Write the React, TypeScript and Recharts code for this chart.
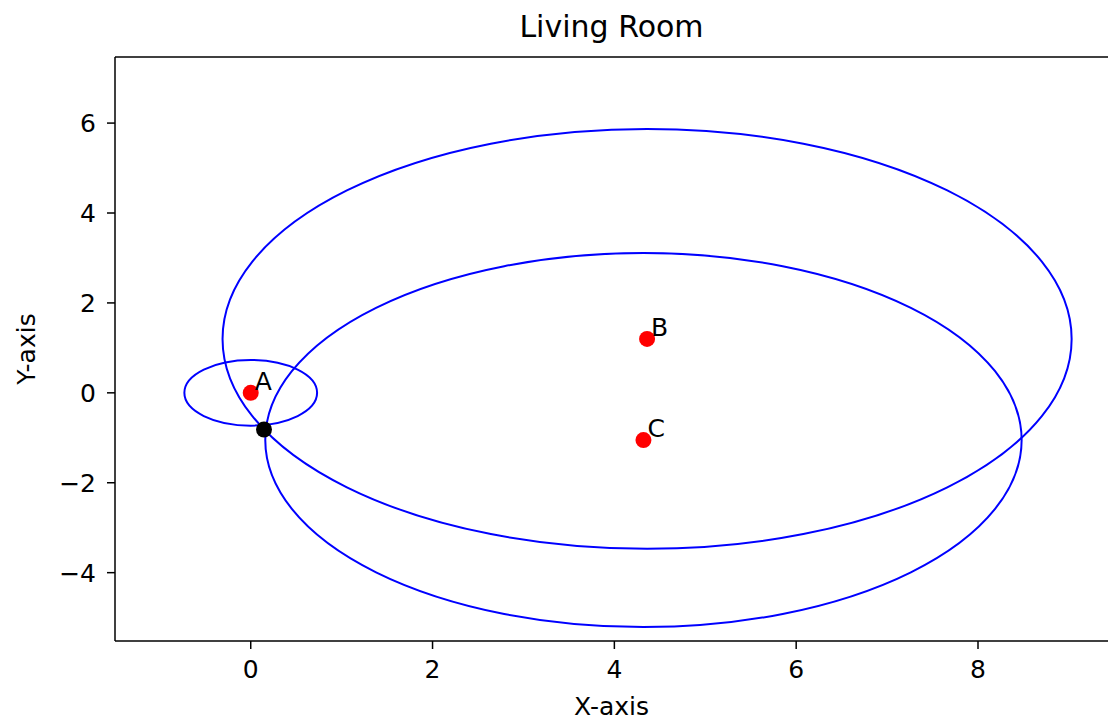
import React from 'react';
import { ScatterChart, Scatter, XAxis, YAxis, ReferenceArea, ReferenceLine } from 'recharts';

// anchor points
const pointNames = ['A', 'B', 'C'];
const pointX = [0, 4.36, 4.32];
const pointY = [0, 1.2, -1.05];
// radius of the circle drawn around each anchor
const circleRadii = [0.73, 4.67, 4.16];
// estimated position (black dot)
const estimateX = [0.146];
const estimateY = [-0.815];

const xTicks = [0, 2, 4, 6, 8];
const yTicks = [-4, -2, 0, 2, 4, 6];
const xDomain = [-1.493, 9.43];
const yDomain = [-5.52, 7.47];

const FONT = 'DejaVu Sans, sans-serif';
const INK = '#000';

const anchors = pointNames.map((name, i) => ({ name, x: pointX[i], y: pointY[i], r: circleRadii[i] }));
const estimate = estimateX.map((x, i) => ({ x, y: estimateY[i] }));

const fmt = (v: number) => (v < 0 ? `\u2212${Math.abs(v)}` : `${v}`);

const RedDot = (p: any) => (
  <g>
    <circle cx={p.cx} cy={p.cy} r={8} fill="#ff0000" />
    <text x={p.cx + 4} y={p.cy - 3} fontSize={25} fontFamily={FONT} fill={INK}>
      {p.payload.name}
    </text>
  </g>
);

const BlackDot = (p: any) => <circle cx={p.cx} cy={p.cy} r={8} fill="#000" />;

// ellipse inscribed in the reference area box
const Ring = (p: any) => (
  <ellipse
    cx={p.x + p.width / 2}
    cy={p.y + p.height / 2}
    rx={Math.abs(p.width) / 2}
    ry={Math.abs(p.height) / 2}
    fill="none"
    stroke="#0000ff"
    strokeWidth={2}
  />
);

const App = () => {
  return (
    <div style={{ position: 'absolute', left: 0, top: 0, fontFamily: FONT, background: '#fff' }}>
      <ScatterChart width={1108} height={722} margin={{ top: 57, right: 0, bottom: 0, left: 0 }}>
        <XAxis
          type="number"
          dataKey="x"
          domain={xDomain}
          ticks={xTicks}
          allowDataOverflow
          height={81}
          tickFormatter={fmt}
          tickSize={8}
          tickMargin={11}
          axisLine={{ stroke: INK, strokeWidth: 1.5 }}
          tickLine={{ stroke: INK, strokeWidth: 1.5 }}
          tick={{ fontSize: 25, fill: INK, fontFamily: FONT }}
          label={{ value: 'X-axis', position: 'insideBottom', offset: 7, fontSize: 25, fill: INK, fontFamily: FONT }}
        />
        <YAxis
          type="number"
          dataKey="y"
          domain={yDomain}
          ticks={yTicks}
          allowDataOverflow
          width={115}
          tickFormatter={fmt}
          tickSize={8}
          tickMargin={11}
          axisLine={{ stroke: INK, strokeWidth: 1.5 }}
          tickLine={{ stroke: INK, strokeWidth: 1.5 }}
          tick={{ fontSize: 25, fill: INK, fontFamily: FONT }}
          label={{
            value: 'Y-axis',
            angle: -90,
            position: 'insideLeft',
            offset: 26,
            fontSize: 25,
            fill: INK,
            fontFamily: FONT,
            style: { textAnchor: 'middle' },
          }}
        />
        <ReferenceLine
          y={yDomain[1]}
          stroke={INK}
          strokeWidth={1.5}
          ifOverflow="visible"
          label={{ value: 'Living Room', position: 'top', offset: 20, fontSize: 30, fill: INK, fontFamily: FONT }}
        />
        <Scatter data={estimate} shape={BlackDot} isAnimationActive={false} />
        {anchors.map((a) => (
          <ReferenceArea
            key={a.name}
            x1={a.x - a.r}
            x2={a.x + a.r}
            y1={a.y - a.r}
            y2={a.y + a.r}
            ifOverflow="visible"
            shape={Ring}
          />
        ))}
        <Scatter data={anchors} shape={RedDot} isAnimationActive={false} />
      </ScatterChart>
    </div>
  );
};

export default App;
